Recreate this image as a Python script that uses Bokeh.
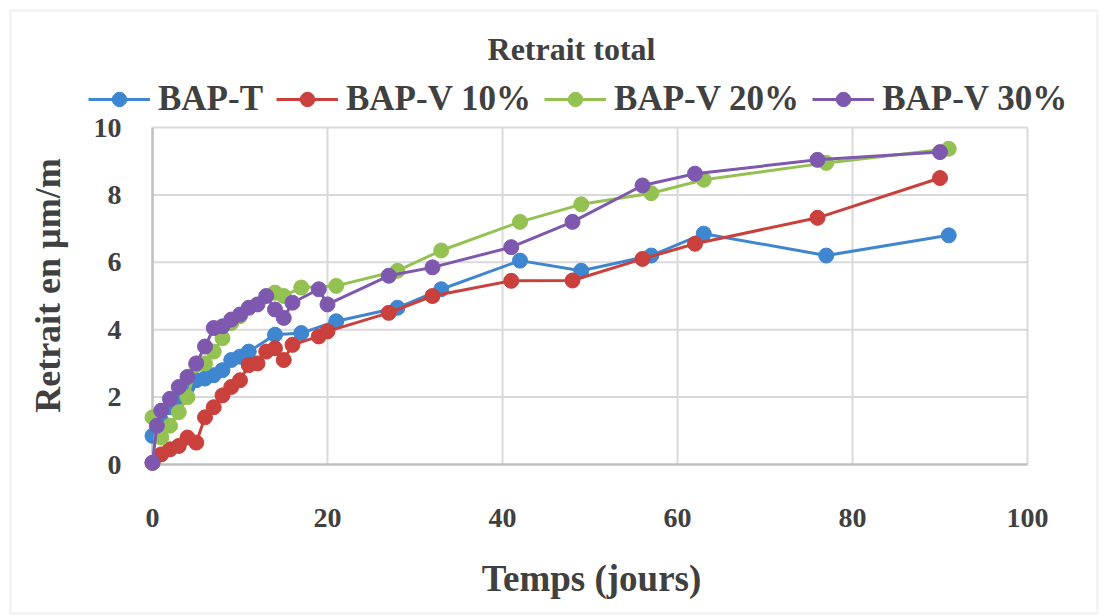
import math
from bokeh.plotting import figure
from bokeh.models import Legend, LegendItem, Range1d, Label, PolyAnnotation
from bokeh.core.properties import value
from bokeh.embed import file_html
from bokeh.resources import INLINE

# Total shrinkage (µm/m) against time (days) for the four mixes
series_names = ["BAP-T", "BAP-V 10%", "BAP-V 20%", "BAP-V 30%"]

days_t = [0, 1, 2, 3, 4, 5, 6, 7, 8, 9, 10, 11, 14, 17, 21, 28, 33, 42, 49, 57, 63, 77, 91]
retrait_t = [0.85, 1.3, 1.7, 2.0, 2.3, 2.5, 2.55, 2.65, 2.8, 3.1, 3.2, 3.35, 3.85, 3.9, 4.25,
             4.65, 5.2, 6.05, 5.75, 6.2, 6.85, 6.2, 6.8]

days_v10 = [0, 1, 2, 3, 4, 5, 6, 7, 8, 9, 10, 11, 12, 13, 14, 15, 16, 19, 20, 27, 32, 41, 48,
            56, 62, 76, 90]
retrait_v10 = [0.05, 0.3, 0.45, 0.55, 0.8, 0.65, 1.4, 1.7, 2.05, 2.3, 2.5, 2.95, 3.0, 3.35, 3.45,
               3.1, 3.55, 3.8, 3.95, 4.5, 5.0, 5.45, 5.46, 6.1, 6.55, 7.32, 8.5]

days_v20 = [0, 1, 2, 3, 4, 5, 6, 7, 8, 9, 10, 14, 15, 17, 21, 28, 33, 42, 49, 57, 63, 77, 91]
retrait_v20 = [1.4, 0.8, 1.15, 1.55, 2.0, 2.95, 3.0, 3.35, 3.75, 4.2, 4.4, 5.1, 5.0, 5.25, 5.3,
               5.75, 6.35, 7.2, 7.72, 8.05, 8.45, 8.95, 9.37]

days_v30 = [0, 0.5, 1, 2, 3, 4, 5, 6, 7, 8, 9, 10, 11, 12, 13, 14, 15, 16, 19, 20, 27, 32, 41,
            48, 56, 62, 76, 90]
retrait_v30 = [0.05, 1.15, 1.6, 1.95, 2.3, 2.6, 3.0, 3.5, 4.05, 4.1, 4.3, 4.45, 4.65, 4.75, 5.0,
               4.6, 4.35, 4.8, 5.2, 4.75, 5.6, 5.85, 6.45, 7.2, 8.28, 8.63, 9.04, 9.27]

x_ticks = [0, 20, 40, 60, 80, 100]
y_ticks = [0, 2, 4, 6, 8, 10]
x_tick_labels = [str(t) for t in x_ticks]
y_tick_labels = [str(t) for t in y_ticks]

chart_title = "Retrait total"
x_title = "Temps (jours)"
y_title = "Retrait en µm/m"

colors = ["#3F86D0", "#C9403C", "#93C152", "#7E58AE"]
text_color = "#404040"
font = "Liberation Serif"
marker_size = 15
line_w = 3

W, H = 1107, 616
# plot box in page pixels: x 0..100 -> 152..1027, y 0..10 -> 464..127
px_left, px_right, py_bottom, py_top = 152, 1027, 464, 127
kx = (px_right - px_left) / (x_ticks[-1] - x_ticks[0])
ky = (py_bottom - py_top) / (y_ticks[-1] - y_ticks[0])

p = figure(width=W, height=H, output_backend="svg", toolbar_location=None,
           x_range=Range1d(-px_left / kx, (W - px_left) / kx),
           y_range=Range1d(-(H - py_bottom) / ky, py_bottom / ky),
           x_axis_type=None, y_axis_type=None, min_border=0,
           background_fill_color="white", border_fill_color="white")
p.outline_line_color = None

# light frame round the whole chart
p.add_layout(PolyAnnotation(xs=[10, 1097, 1097, 10], ys=[606, 606, 3, 3],
                            xs_units="screen", ys_units="screen", fill_alpha=0,
                            line_color="#dcdcdc", line_width=3))

# grid inside the 0..100 / 0..10 box
p.segment(x0=x_ticks[1:], y0=0, x1=x_ticks[1:], y1=y_ticks[-1],
          line_color="#d9d9d9", line_width=2)
p.segment(x0=0, y0=y_ticks[1:], x1=x_ticks[-1], y1=y_ticks[1:],
          line_color="#d9d9d9", line_width=2)
# axis lines
p.segment(x0=[0, 0], y0=[0, 0], x1=[0, x_ticks[-1]], y1=[y_ticks[-1], 0],
          line_color="#bfbfbf", line_width=2.5)

# tick labels
p.text(x=x_ticks, y=[-53 / ky] * len(x_ticks), text=x_tick_labels,
       text_font=value(font), text_font_style="bold", text_font_size=value("28px"),
       text_color=text_color, text_align="center", text_baseline="middle")
p.text(x=[-31 / kx] * len(y_ticks), y=y_ticks, text=y_tick_labels,
       text_font=value(font), text_font_style="bold", text_font_size=value("28px"),
       text_color=text_color, text_align="right", text_baseline="middle")

# titles
p.add_layout(Label(x=591, y=H - 578, x_units="screen", y_units="screen", text=x_title,
                   text_align="center", text_baseline="middle", text_font=font,
                   text_font_style="bold", text_font_size="37px", text_color=text_color))
p.add_layout(Label(x=47, y=H - 285, x_units="screen", y_units="screen", text=y_title,
                   angle=math.pi / 2, text_align="center", text_baseline="middle",
                   text_font=font, text_font_style="bold", text_font_size="36px",
                   text_color=text_color))
p.add_layout(Label(x=571, y=H - 48, x_units="screen", y_units="screen", text=chart_title,
                   text_align="center", text_baseline="middle", text_font=font,
                   text_font_style="bold", text_font_size="32px", text_color=text_color))

# series
items = []
data = [(days_t, retrait_t), (days_v10, retrait_v10), (days_v20, retrait_v20),
        (days_v30, retrait_v30)]
for name, (xs, ys), c in zip(series_names, data, colors):
    ln = p.line(xs, ys, line_color=c, line_width=line_w)
    pts = p.scatter(xs, ys, marker="circle", size=marker_size, fill_color=c, line_color=c)
    items.append(LegendItem(label=name, renderers=[ln, pts]))

legend = Legend(items=items, orientation="horizontal", location=(88, H - 119),
                label_text_font=font, label_text_font_style="bold",
                label_text_font_size="35px", label_text_color=text_color,
                glyph_width=62, glyph_height=36, label_standoff=8, spacing=13,
                padding=0, margin=0, border_line_color=None,
                background_fill_alpha=0)
p.add_layout(legend)

open("out.html", "w").write(file_html(p, INLINE))
